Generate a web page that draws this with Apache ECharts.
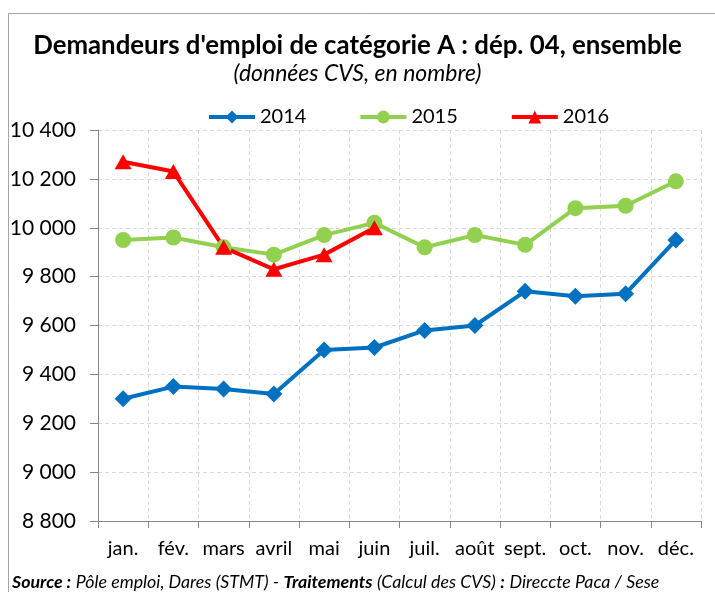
<!DOCTYPE html>
<html>
<head>
<meta charset="utf-8">
<script src="https://cdn.jsdelivr.net/npm/echarts@6/dist/echarts.min.js"></script>
<style>
  html, body { margin: 0; padding: 0; background: #fff; }
  #chart { width: 715px; height: 592px; }
</style>
</head>
<body>
<div id="chart"></div>
<script>
// mois
var months = ['jan.', 'fév.', 'mars', 'avril', 'mai', 'juin', 'juil.', 'août', 'sept.', 'oct.', 'nov.', 'déc.'];
// demandeurs d'emploi cat. A, dép. 04 (CVS)
var values2014 = [9300, 9350, 9340, 9320, 9500, 9510, 9580, 9600, 9740, 9720, 9730, 9950];
var values2015 = [9950, 9960, 9920, 9890, 9970, 10020, 9920, 9970, 9930, 10080, 10090, 10190];
var values2016 = [10270, 10230, 9920, 9830, 9890, 10000];
var yTicks = [8800, 9000, 9200, 9400, 9600, 9800, 10000, 10200, 10400];

var font = 'Lato, "Liberation Sans", sans-serif';

var chart = echarts.init(document.getElementById('chart'));

function fmt(v) {
  // séparateur de milliers = espace
  return String(v).replace(/\B(?=(\d{3})+(?!\d))/g, ' ');
}

var option = {
  animation: false,
  backgroundColor: '#fff',
  textStyle: { fontFamily: font },
  title: [
    {
      text: "Demandeurs d'emploi de catégorie A : dép. 04, ensemble",
      left: 'center',
      top: 28,
      textStyle: { fontFamily: font, fontSize: 25.8, fontWeight: 'bold', color: '#000' }
    },
    {
      text: '(données CVS, en nombre)',
      left: 'center',
      top: 57,
      textStyle: { fontFamily: font, fontSize: 23, fontStyle: 'italic', fontWeight: 'normal', color: '#000' }
    },
    {
      text: '{b|Source :} {n|Pôle emploi, Dares (STMT) -} {b|Traitements} {n|(Calcul des CVS)} {b|:} {n|Direccte Paca / Sese}',
      left: 7,
      top: 568,
      textStyle: {
        fontFamily: font, fontSize: 17.8, fontWeight: 'normal', color: '#000',
        rich: {
          b: { fontFamily: font, fontSize: 17.8, fontStyle: 'italic', fontWeight: 'bold', color: '#000' },
          n: { fontFamily: font, fontSize: 17.8, fontStyle: 'italic', color: '#000' }
        }
      }
    }
  ],
  graphic: [
    {
      type: 'rect',
      shape: { x: 8.5, y: 13.5, width: 760, height: 640 },
      style: { fill: 'none', stroke: '#a6a6a6', lineWidth: 1 },
      silent: true
    }
  ],
  legend: {
    top: 102,
    left: 202,
    itemWidth: 46,
    itemHeight: 16,
    itemGap: 52,
    textStyle: { fontFamily: font, fontSize: 20, color: '#000' },
    lineStyle: { width: 4 },
    data: ['2014', '2015', '2016']
  },
  grid: {
    left: 98,
    right: 14,
    top: 130,
    bottom: 71,
    containLabel: false
  },
  xAxis: {
    type: 'category',
    boundaryGap: true,
    data: months,
    axisLine: { lineStyle: { color: '#868686', width: 1 } },
    axisTick: { show: true, alignWithLabel: false, length: 7, lineStyle: { color: '#868686' } },
    axisLabel: { interval: 0, margin: 18, fontFamily: font, fontSize: 20, color: '#000' },
    splitLine: { show: true, lineStyle: { color: '#d9d9d9', type: [4, 3], width: 1 } }
  },
  yAxis: {
    type: 'value',
    min: yTicks[0],
    max: yTicks[yTicks.length - 1],
    interval: 200,
    axisLine: { show: true, lineStyle: { color: '#868686', width: 1 } },
    axisTick: { show: true, length: 8, lineStyle: { color: '#868686' } },
    axisLabel: { margin: 22, fontFamily: font, fontSize: 21, color: '#000', formatter: fmt },
    splitLine: { show: true, lineStyle: { color: '#d9d9d9', type: [4, 3], width: 1 } }
  },
  series: [
    {
      name: '2014',
      type: 'line',
      data: values2014,
      symbol: 'diamond',
      symbolSize: 17,
      lineStyle: { color: '#0070c0', width: 4 },
      itemStyle: { color: '#0070c0' }
    },
    {
      name: '2015',
      type: 'line',
      data: values2015,
      symbol: 'circle',
      symbolSize: 16,
      lineStyle: { color: '#92d050', width: 4 },
      itemStyle: { color: '#92d050' }
    },
    {
      name: '2016',
      type: 'line',
      data: values2016,
      symbol: 'triangle',
      symbolSize: [17, 15],
      lineStyle: { color: '#ff0000', width: 4 },
      itemStyle: { color: '#ff0000' }
    }
  ]
};

chart.setOption(option);
</script>
</body>
</html>
